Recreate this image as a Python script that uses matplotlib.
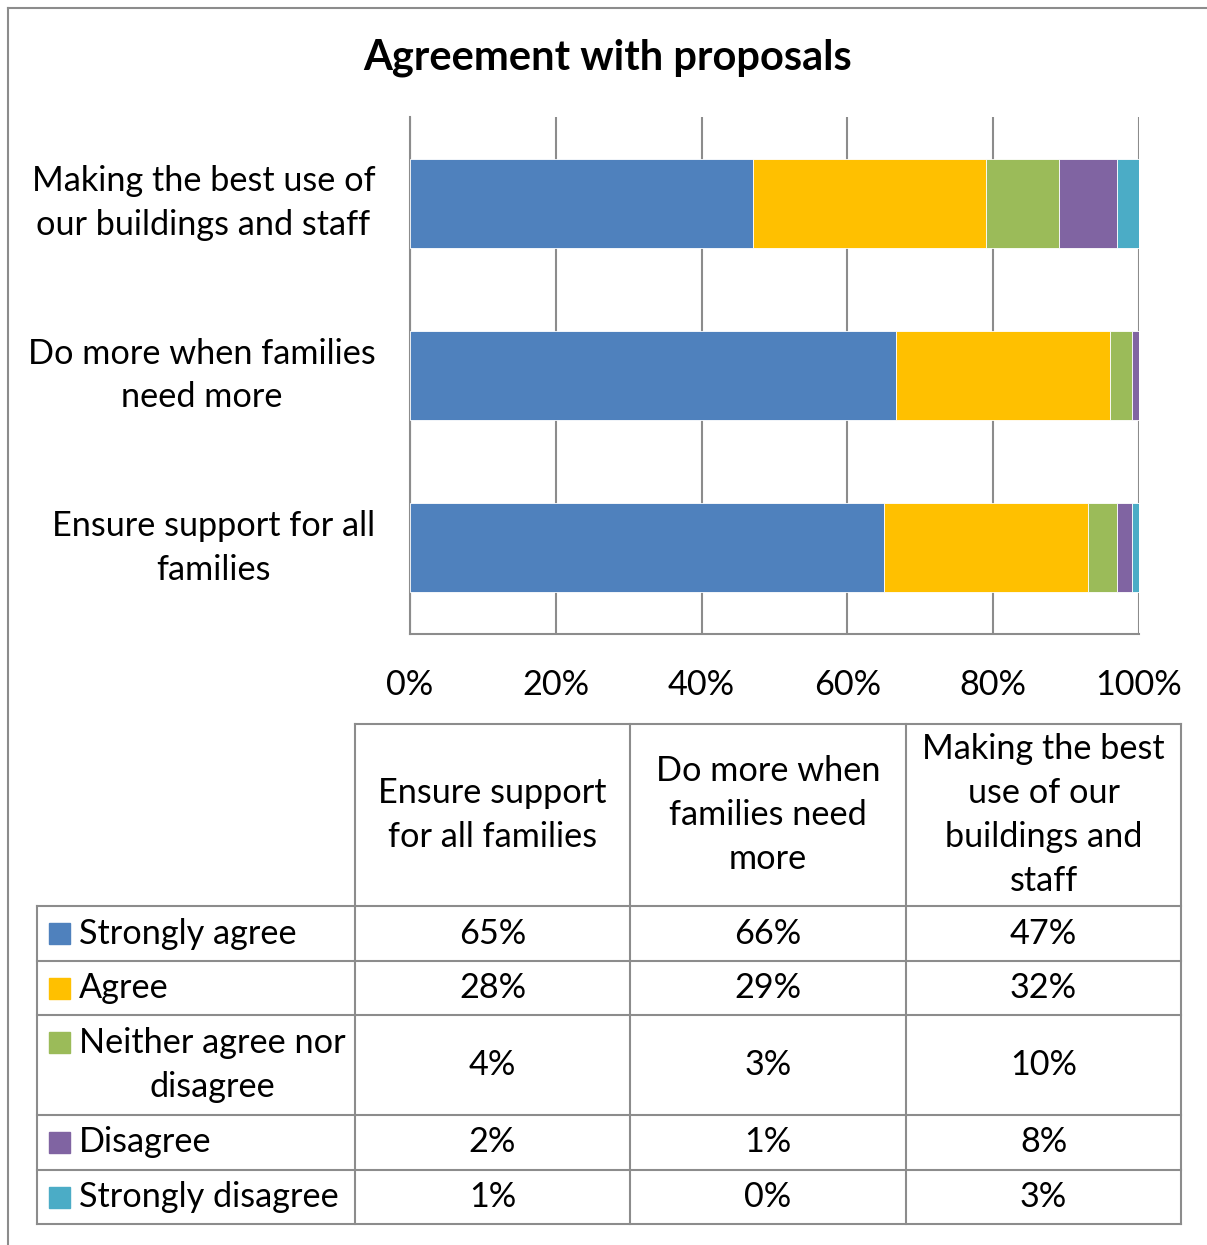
import matplotlib.pyplot as plt
import numpy as np

plt.rcParams['font.family'] = ['Lato', 'DejaVu Sans']

# chart data
categories = ['Ensure support for all\nfamilies',
              'Do more when families\nneed more',
              'Making the best use of\nour buildings and staff']
table_headers = ['Ensure support\nfor all families',
                 'Do more when\nfamilies need\nmore',
                 'Making the best\nuse of our\nbuildings and\nstaff']
responses = ['Strongly agree', 'Agree', 'Neither agree nor\ndisagree',
             'Disagree', 'Strongly disagree']
strongly_agree = [65, 66, 47]
agree = [28, 29, 32]
neither = [4, 3, 10]
disagree = [2, 1, 8]
strongly_disagree = [1, 0, 3]
x_ticks = [0, 20, 40, 60, 80, 100]

colors = ['#4F81BD', '#FFC000', '#9BBB59', '#8064A2', '#4BACC6']
line_gray = '#8c8c8c'
fs = 24.7
ls = 1.45

W, H = 1207, 1245
fig = plt.figure(figsize=(W / 100, H / 100), dpi=100)

# full-figure overlay in pixel units for frame and data table
bg = fig.add_axes([0, 0, 1, 1])
bg.set_xlim(0, W)
bg.set_ylim(H, 0)
bg.axis('off')
bg.plot([8, 8], [H, 8], color='#8c8c8c', lw=1.5)
bg.plot([8, W], [8, 8], color='#8c8c8c', lw=1.5)

bg.text(608, 58, 'Agreement with proposals', ha='center', va='center',
        fontsize=30, fontweight='bold')

# stacked 100% bars
series = np.array([strongly_agree, agree, neither, disagree, strongly_disagree], dtype=float)
shares = series / series.sum(axis=0) * 100
ax = fig.add_axes([410 / W, 1 - 634 / H, 729 / W, 517 / H])
y = np.arange(len(categories))
left = np.zeros(len(categories))
for vals, col in zip(shares, colors):
    ax.barh(y, vals, left=left, height=0.515, color=col, edgecolor='white',
            linewidth=0.6, zorder=3)
    left += vals

ax.set_xlim(0, 100)
ax.set_ylim(-0.5, 2.5)
ax.set_xticks(x_ticks)
ax.set_xticklabels([f'{t}%' for t in x_ticks], fontsize=fs)
ax.set_yticks(y)
ax.set_yticklabels(categories, fontsize=fs, multialignment='center',
                   linespacing=ls, va='center')
ax.tick_params(axis='both', length=0)
ax.tick_params(axis='x', pad=25)
ax.tick_params(axis='y', pad=25)
ax.xaxis.grid(True, color=line_gray, lw=1.5, zorder=0)
ax.set_axisbelow(True)
for s in ['top', 'right']:
    ax.spines[s].set_visible(False)
for s in ['left', 'bottom']:
    ax.spines[s].set_color(line_gray)
    ax.spines[s].set_linewidth(1.5)

# data table below the chart
xs = [37, 355, 630, 906, 1181]
ys = [724, 906, 961, 1015, 1115, 1170, 1224]
kw = dict(color=line_gray, lw=1.5, solid_capstyle='projecting')
bg.plot([xs[1], xs[-1]], [ys[0], ys[0]], **kw)
for yy in ys[1:]:
    bg.plot([xs[0], xs[-1]], [yy, yy], **kw)
for xx in xs[1:]:
    bg.plot([xx, xx], [ys[0], ys[-1]], **kw)
bg.plot([xs[0], xs[0]], [ys[1], ys[-1]], **kw)

for c, head in enumerate(table_headers):
    cx = (xs[c + 1] + xs[c + 2]) / 2
    bg.text(cx, (ys[0] + ys[1]) / 2, head, ha='center', va='center',
            fontsize=fs, multialignment='center', linespacing=ls)

for r, (label, vals) in enumerate(zip(responses, series)):
    top, bot = ys[r + 1], ys[r + 2]
    cy = (top + bot) / 2
    n_lines = label.count('\n') + 1
    my = cy if n_lines == 1 else top + 27
    bg.add_patch(plt.Rectangle((49, my - 10.5), 21, 21, color=colors[r]))
    bg.text(79, cy, label, ha='left', va='center', fontsize=fs,
            multialignment='center', linespacing=ls)
    for c, v in enumerate(vals):
        cx = (xs[c + 1] + xs[c + 2]) / 2
        bg.text(cx, cy, f'{int(v)}%', ha='center', va='center', fontsize=fs)

fig.savefig('out.png', dpi=100)
